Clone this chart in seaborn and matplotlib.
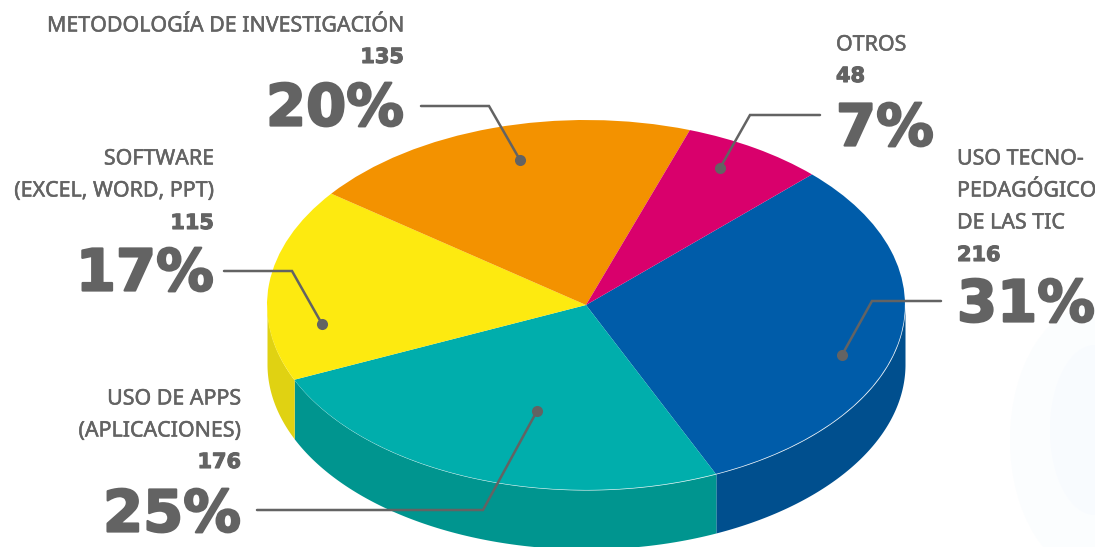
import numpy as np
import matplotlib
matplotlib.use('Agg')
import matplotlib.pyplot as plt
import matplotlib.patheffects as pe
from matplotlib.patches import Ellipse
import seaborn as sns

# slices, clockwise from the blue one
labels = ["USO TECNO-\nPEDAGÓGICO\nDE LAS TIC", "USO DE APPS\n(APLICACIONES)", "SOFTWARE\n(EXCEL, WORD, PPT)",
          "METODOLOGÍA DE INVESTIGACIÓN", "OTROS"]
counts = [216, 176, 115, 135, 48]
percents = [31, 25, 17, 20, 7]
# slice sizes as drawn in the picture, a bit off the printed percents
shares = [30.8, 25.05, 16.9, 20.0, 7.25]
top_colors = ["#005ca9", "#00aeac", "#fdea10", "#f39200", "#d9006c"]
side_colors = ["#004f8e", "#00958f", "#e0d212", "#d98200", "#b8005c"]

W, H = 1095, 547
CX, CY, RX, RY = 586, 305, 319, 185
DEPTH = 59 / RY
GREY = "#636363"

sns.set_theme(style="white")
plt.rcParams['font.family'] = ['Noto Sans', 'DejaVu Sans']

fig = plt.figure(figsize=(W / 100, H / 100), dpi=100)
ax = fig.add_axes([0, 0, 1, 1])

wedges, _ = ax.pie(shares, colors=sns.color_palette(top_colors), startangle=44.9,
                   counterclock=False, radius=1, wedgeprops=dict(linewidth=0, zorder=3))
ax.set_aspect('auto')
ax.set_xlim(-CX / RX, (W - CX) / RX)
ax.set_ylim((CY - H) / RY, CY / RY)
ax.axis('off')

# side wall of the cake, only the part facing us
for w, col in zip(wedges, side_colors):
    a = max(w.theta1, -180)
    b = min(w.theta2, 0)
    if a >= b:
        continue
    t = np.radians(np.linspace(a, b, 200))
    ax.fill_between(np.cos(t), np.sin(t), np.sin(t) - DEPTH, color=col, lw=0, zorder=2)

# rim highlight
t = np.radians(np.linspace(-180, 0, 400))
ax.plot(np.cos(t), np.sin(t), color="white", lw=0.4, alpha=0.15, zorder=4)

# overlay in pixel coordinates for the texts and leaders
ov = fig.add_axes([0, 0, 1, 1], facecolor='none')
ov.set_xlim(0, W)
ov.set_ylim(H, 0)
ov.axis('off')

# faint blue smudge on the right of the background
ov.add_patch(Ellipse((1095, 440), 170, 270, color="#fbfdfe", lw=0, zorder=0))
ov.add_patch(Ellipse((1095, 430), 90, 170, color="#f8fbfe", lw=0, zorder=0))

fat = [pe.withStroke(linewidth=1.6, foreground=GREY)]
fat_small = [pe.withStroke(linewidth=0.8, foreground=GREY)]
thin = [pe.withStroke(linewidth=0.35, foreground=GREY)]

# label rows, count row and percent row of every block
blocks = [
    dict(x=957, ha='left', ys=[159, 191, 223], ny=255, py=305),
    dict(x=241, ha='right', ys=[399, 431], ny=462, py=515),
    dict(x=214, ha='right', ys=[159, 191], ny=223, py=274),
    dict(x=404, ha='right', ys=[26], ny=57, py=109),
    dict(x=836, ha='left', ys=[45], ny=76, py=129),
]
for lab, n, pct, b in zip(labels, counts, percents, blocks):
    for line, y in zip(lab.split("\n"), b['ys']):
        ov.text(b['x'], y, line, ha=b['ha'], va='center', fontsize=15.4, color=GREY, zorder=6, path_effects=thin)
    ov.text(b['x'], b['ny'], str(n), ha=b['ha'], va='center', fontsize=15, fontweight='bold',
            family='DejaVu Sans', color=GREY, zorder=6, path_effects=fat_small)
    ov.text(b['x'], b['py'], f"{pct}%", ha=b['ha'], va='center', fontsize=41.5, fontweight='bold',
            family='DejaVu Sans', color=GREY, zorder=6, path_effects=fat)

# leader lines, outer end -> elbow -> dot
leaders = [
    ([941, 872, 842], [301, 301, 355]),
    ([257, 483, 537], [510, 510, 411]),
    ([224, 292, 322], [271, 271, 324]),
    ([421, 489, 520], [106, 106, 160]),
    ([820, 750, 720], [115, 115, 168]),
]
for xs, ys in leaders:
    ov.plot(xs, ys, color=GREY, lw=1.8, solid_joinstyle='miter', zorder=5)
    ov.plot(xs[-1], ys[-1], 'o', color=GREY, ms=8, mew=0, zorder=5)

fig.savefig("out.png", dpi=100)
